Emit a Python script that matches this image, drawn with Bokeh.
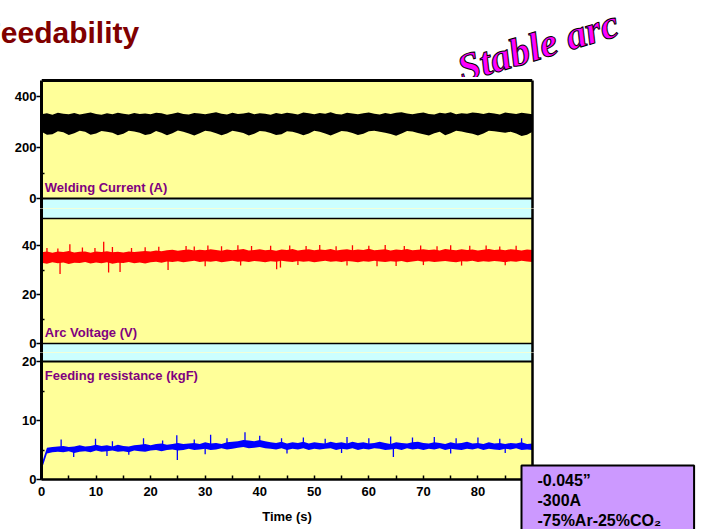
import numpy as np
from bokeh.plotting import figure
from bokeh.layouts import column
from bokeh.models import Range1d, LinearAxis, FixedTicker, Span, BoxAnnotation, Label, Title
from bokeh.embed import file_html
from bokeh.resources import INLINE

# ---------------- data ----------------
time_s = list(range(0, 91))

current_hi = [330, 334, 328, 336, 332, 330, 335, 329, 333, 337,
              331, 328, 334, 330, 336, 332, 329, 335, 331, 333,
              330, 336, 334, 328, 332, 337, 331, 329, 335, 333,
              330, 334, 338, 332, 329, 336, 331, 333, 337, 330,
              334, 332, 328, 335, 331, 336, 333, 329, 337, 334,
              330, 335, 332, 338, 331, 329, 336, 333, 330, 334,
              337, 332, 329, 335, 331, 336, 338, 333, 330, 334,
              337, 331, 329, 336, 333, 338, 330, 334, 332, 337,
              335, 331, 336, 333, 329, 337, 334, 331, 336, 333,
              330]
current_lo = [262, 250, 252, 264, 260, 249, 256, 266, 262, 250,
              255, 265, 262, 258, 248, 254, 266, 263, 258, 249,
              253, 265, 258, 248, 256, 267, 262, 255, 247, 256,
              266, 263, 256, 248, 255, 266, 262, 257, 247, 254,
              265, 263, 257, 249, 252, 264, 262, 256, 248, 255,
              266, 262, 255, 247, 256, 265, 263, 257, 249, 254,
              264, 266, 262, 258, 253, 246, 255, 265, 263, 257,
              252, 247, 256, 262, 248, 256, 266, 263, 258, 254,
              247, 255, 266, 264, 261, 258, 262, 255, 245, 250,
              262]

voltage_hi = [37.2, 37.5, 37.0, 37.6, 37.3, 37.8, 37.1, 37.4, 37.6, 37.0,
              37.5, 37.3, 37.7, 37.2, 37.4, 37.1, 37.6, 37.3, 37.5, 37.8,
              37.6, 38.0, 37.7, 38.1, 38.3, 37.9, 38.2, 38.4, 38.0, 38.3,
              38.1, 38.5, 38.2, 37.9, 38.4, 38.1, 38.3, 38.6, 38.0, 38.2,
              38.5, 38.1, 38.3, 37.9, 38.4, 38.2, 38.6, 38.0, 38.3, 38.5,
              38.1, 38.4, 38.2, 38.6, 38.0, 38.3, 38.5, 38.1, 38.4, 38.2,
              38.7, 38.1, 38.3, 38.5, 38.0, 38.4, 38.2, 38.6, 38.1, 38.3,
              38.5, 38.2, 38.4, 38.0, 38.6, 38.3, 38.1, 38.5, 38.2, 38.4,
              38.0, 38.3, 38.6, 38.2, 38.4, 38.1, 38.5, 38.3, 38.0, 38.4,
              38.2]
voltage_lo = [33.0, 32.6, 33.2, 32.8, 33.1, 32.5, 33.0, 32.9, 33.3, 32.7,
              33.1, 32.8, 33.2, 32.6, 33.0, 32.9, 33.3, 32.8, 33.1, 32.7,
              33.2, 33.4, 33.0, 33.5, 33.3, 33.6, 33.2, 33.5, 33.8, 33.3,
              33.6, 33.4, 33.7, 33.2, 33.5, 33.8, 33.4, 33.6, 33.3, 33.7,
              33.5, 33.2, 33.6, 33.4, 33.8, 33.5, 33.3, 33.7, 33.4, 33.6,
              33.2, 33.5, 33.8, 33.4, 33.6, 33.3, 33.7, 33.5, 33.2, 33.6,
              33.4, 33.8, 33.5, 33.3, 33.6, 33.4, 33.7, 33.2, 33.5, 33.8,
              33.4, 33.6, 33.3, 33.5, 33.7, 33.4, 33.2, 33.6, 33.5, 33.8,
              33.3, 33.6, 33.4, 33.7, 33.5, 33.2, 33.6, 33.4, 33.8, 33.5,
              33.3]
voltage_spike_t = [0.1, 1.0, 3.0, 3.4, 5.2, 7.5, 9.8, 11.4, 12.3, 13.0, 14.4,
                   16.5, 19.0, 21.5, 23.2, 26.5, 28.0, 30.0, 30.5, 33.0, 36.0,
                   36.5, 38.5, 42.0, 43.1, 43.8, 45.5, 47.0, 48.5, 51.0, 54.0,
                   56.0, 57.0, 60.0, 61.5, 63.0, 65.0, 66.5, 69.5, 70.0, 72.5,
                   75.0, 77.0, 78.5, 81.5, 84.0, 85.0, 87.0]
voltage_spike_v = [0.0, 39.0, 38.8, 28.4, 40.5, 39.2, 39.0, 41.5, 29.0, 39.4, 29.2,
                   39.0, 39.3, 39.5, 30.0, 39.8, 39.6, 31.5, 40.0, 39.7, 40.1,
                   31.8, 39.8, 39.9, 30.3, 31.0, 40.0, 32.0, 39.8, 40.2, 39.7,
                   31.8, 40.1, 39.9, 31.5, 40.2, 31.6, 39.8, 40.0, 32.0, 39.7,
                   40.1, 31.8, 39.9, 40.0, 39.6, 31.9, 39.9]

feed_hi = [2.6, 5.4, 5.5, 5.6, 5.7, 5.5, 5.6, 5.8, 5.6, 5.7,
           5.9, 5.7, 5.8, 5.6, 5.9, 5.7, 5.6, 5.8, 5.9, 6.0,
           5.8, 6.0, 6.1, 5.9, 6.0, 6.2, 6.0, 6.1, 6.2, 6.0,
           6.3, 6.1, 6.2, 6.0, 6.3, 6.4, 6.5, 6.7, 6.6, 6.5,
           6.7, 6.5, 6.3, 6.2, 6.4, 6.1, 6.3, 6.2, 6.4, 6.1,
           6.3, 6.2, 6.1, 6.4, 6.2, 6.3, 6.1, 6.4, 6.2, 6.3,
           6.1, 6.2, 6.4, 6.2, 6.0, 6.3, 6.2, 6.1, 6.3, 6.4,
           6.2, 6.1, 6.3, 6.2, 6.0, 6.3, 6.1, 6.2, 6.4, 6.1,
           6.2, 6.0, 6.3, 6.1, 6.2, 6.0, 6.2, 6.1, 6.3, 6.0,
           6.1]
feed_lo = [1.6, 4.4, 4.6, 4.7, 4.6, 4.8, 4.5, 4.7, 4.8, 4.6,
           4.9, 4.7, 4.8, 4.9, 4.7, 4.8, 4.6, 4.9, 4.8, 4.7,
           4.9, 5.0, 4.8, 5.0, 5.1, 4.9, 5.0, 5.2, 5.0, 5.1,
           5.2, 5.0, 5.1, 5.3, 5.1, 5.2, 5.4, 5.5, 5.3, 5.4,
           5.5, 5.3, 5.2, 5.1, 5.3, 5.0, 5.2, 5.1, 5.3, 5.0,
           5.2, 5.1, 5.2, 5.3, 5.0, 5.2, 5.1, 5.3, 5.0, 5.2,
           5.1, 5.3, 5.2, 5.0, 5.1, 5.2, 5.0, 5.3, 5.1, 5.2,
           5.0, 5.2, 5.1, 5.3, 5.0, 5.2, 5.1, 5.0, 5.2, 5.1,
           5.3, 5.0, 5.2, 5.1, 5.0, 5.2, 5.1, 5.3, 5.0, 5.1,
           5.0]
feed_spike_t = [3.6, 5.9, 9.9, 12.0, 13.0, 16.0, 18.7, 22.2, 24.8, 24.9, 28.0,
                30.0, 31.0, 34.0, 37.3, 40.0, 44.0, 45.0, 48.0, 52.0, 55.0,
                56.0, 60.0, 64.0, 64.5, 68.0, 72.0, 75.0, 76.0, 80.0, 84.0,
                85.0, 88.0]
feed_spike_v = [6.8, 3.8, 6.9, 4.0, 6.5, 4.2, 7.0, 6.6, 7.5, 3.3, 6.8,
                4.3, 7.6, 7.0, 8.0, 7.4, 7.0, 4.4, 7.1, 6.9, 4.5,
                7.2, 7.0, 7.3, 3.8, 7.1, 7.2, 4.4, 7.0, 7.1, 6.9,
                4.5, 7.0]

x_ticks = [0, 10, 20, 30, 40, 50, 60, 70, 80]
x_minor = [5, 15, 25, 35, 45, 55, 65, 75, 85]
cur_ticks, cur_minor = [0, 200, 400], [100, 300]
volt_ticks, volt_minor = [0, 20, 40], [10, 30]
feed_ticks, feed_minor = [0, 10, 20], [5, 15]
panel_names = ["Welding Current (A)", "Arc Voltage (V)", "Feeding resistance (kgF)"]
cur_top, volt_top, feed_top = 462.7, 51, 20
t_max = 90
box_lines = ["-0.045\u201d", "-300A", "-75%Ar-25%CO\u2082"]

# ---------------- styling ----------------
FONT = "Liberation Sans"
YELLOW = "#FFFF99"
CYAN = "#CCFFFF"
PURPLE_TXT = "#800080"
W = 707
RB = W - 532   # right border so that every frame ends at x = 532


def style_left_axis(ax, ticks, minor):
    ax.ticker = FixedTicker(ticks=ticks, minor_ticks=minor)
    ax.axis_line_width = 3
    ax.axis_line_color = "black"
    ax.major_tick_out = 5
    ax.major_tick_in = 0
    ax.minor_tick_in = 3
    ax.minor_tick_out = 0
    ax.major_tick_line_width = 1.5
    ax.minor_tick_line_width = 1.5
    ax.major_label_standoff = 0
    ax.major_label_text_font = FONT
    ax.major_label_text_font_style = "bold"
    ax.major_label_text_font_size = "13px"
    ax.major_label_text_color = "black"


def make_fig(h, mb_bottom, yr, ticks, minor, xaxis=False, bg=YELLOW):
    p = figure(width=W, height=h, x_range=Range1d(0, t_max), y_range=Range1d(*yr),
               output_backend="svg", toolbar_location=None,
               x_axis_location="below" if xaxis else None, y_axis_location="left",
               min_border_left=41, min_border_right=RB,
               min_border_top=0, min_border_bottom=mb_bottom,
               background_fill_color=bg, border_fill_color="white",
               outline_line_color=None)
    p.grid.visible = False
    style_left_axis(p.yaxis[0], ticks, minor)
    return p


def right_border(p, bounds=None):
    ax = LinearAxis(ticker=FixedTicker(ticks=[]), axis_line_width=2.5,
                    axis_line_color="black", major_tick_out=0, minor_tick_out=0)
    if bounds is not None:
        ax.bounds = bounds
    p.add_layout(ax, "right")


def add_spikes(p, t, v, hi, lo, color):
    mid = (np.array(hi) + np.array(lo)) / 2.0
    base = np.interp(t, time_s, mid)
    p.segment(x0=t, y0=base, x1=t, y1=v, line_color=color, line_width=1.3)


def panel_label(p, y, text):
    p.add_layout(Label(x=0.6, y=y, text=text, text_font=FONT, text_font_style="bold",
                       text_font_size="13px", text_color=PURPLE_TXT,
                       text_baseline="middle", text_align="left"))


# ---------------- header: title + "Stable arc" ----------------
hdr = figure(width=W, height=77, x_range=Range1d(0, 1), y_range=Range1d(0, 1),
             output_backend="svg", toolbar_location=None,
             x_axis_location=None, y_axis_location=None,
             min_border_left=41, min_border_right=RB, min_border_top=48, min_border_bottom=0,
             background_fill_color="white", border_fill_color="white",
             outline_line_color=None)
hdr.grid.visible = False
hdr.add_layout(Title(text="Feedability", align="left", offset=-59, standoff=0,
                     text_font=FONT, text_font_style="bold", text_font_size="30px",
                     text_color="#800000", vertical_align="bottom"), "above")
hdr.add_layout(Label(x=-74, y=8, x_units="screen", y_units="screen", text="Stable arc",
                     angle=0.29, text_font="Liberation Sans Narrow",
                     text_font_style="bold italic", text_font_size="40px",
                     text_color="#FF00FF", text_outline_color="black",
                     text_baseline="alphabetic"), "right")

# ---------------- panel 1: welding current ----------------
p1_lo = -39.2
p1 = make_fig(131, 0, (p1_lo, 474.5), cur_ticks, cur_minor, bg="white")
p1.yaxis[0].bounds = (p1_lo, cur_top)
right_border(p1, (p1_lo, cur_top))
p1.add_layout(BoxAnnotation(bottom=0, top=cur_top, fill_color=YELLOW, fill_alpha=1,
                            line_color=None, level="underlay"))
p1.add_layout(BoxAnnotation(top=0, fill_color=CYAN, fill_alpha=1, line_color=None, level="underlay"))
p1.add_layout(Span(location=cur_top, dimension="width", line_color="black", line_width=3))
p1.add_layout(Span(location=0, dimension="width", line_color="black", line_width=2))
p1.varea(x=time_s, y1=current_lo, y2=current_hi, fill_color="black")
panel_label(p1, 43, panel_names[0])

# ---------------- panel 2: arc voltage ----------------
p2 = make_fig(144, 0, (-3.67, 55.1), volt_ticks, volt_minor)
right_border(p2)
p2.add_layout(BoxAnnotation(top=0, fill_color=CYAN, fill_alpha=1, line_color=None, level="underlay"))
p2.add_layout(BoxAnnotation(bottom=volt_top, fill_color=CYAN, fill_alpha=1, line_color=None, level="underlay"))
p2.add_layout(Span(location=0, dimension="width", line_color="black", line_width=1.5))
p2.add_layout(Span(location=volt_top, dimension="width", line_color="black", line_width=1.5))
p2.varea(x=time_s, y1=voltage_lo, y2=voltage_hi, fill_color="red")
add_spikes(p2, voltage_spike_t, voltage_spike_v, voltage_hi, voltage_lo, "red")
panel_label(p2, 4.6, panel_names[1])

# ---------------- panel 3: feeding resistance ----------------
p3 = make_fig(177, 50, (0, 21.53), feed_ticks, feed_minor, xaxis=True)
right_border(p3)
p3.add_layout(BoxAnnotation(bottom=feed_top, fill_color=CYAN, fill_alpha=1,
                            line_color=None, level="underlay"))
p3.add_layout(Span(location=feed_top, dimension="width", line_color="black", line_width=2))
p3.varea(x=time_s, y1=feed_lo, y2=feed_hi, fill_color="blue")
add_spikes(p3, feed_spike_t, feed_spike_v, feed_hi, feed_lo, "blue")
panel_label(p3, 17.7, panel_names[2])
xa = p3.xaxis[0]
xa.ticker = FixedTicker(ticks=x_ticks, minor_ticks=x_minor)
xa.axis_line_width = 2.5
xa.major_tick_in = 4
xa.major_tick_out = 0
xa.minor_tick_in = 4
xa.minor_tick_out = 0
xa.major_tick_line_width = 1.5
xa.minor_tick_line_width = 1.5
xa.major_label_standoff = 7
xa.major_label_text_font = FONT
xa.major_label_text_font_style = "bold"
xa.major_label_text_font_size = "13px"
xa.major_label_text_color = "black"
xa.axis_label = "Time (s)"
xa.axis_label_text_font = FONT
xa.axis_label_text_font_style = "bold"
xa.axis_label_text_font_size = "13px"
xa.axis_label_standoff = 10
xa.axis_label_text_color = "black"

# info box, placed in the right-hand side panel of the last plot
p3.add_layout(Label(x=-11, y=14, x_units="screen", y_units="screen",
                    text="\n".join(box_lines), text_font=FONT,
                    text_font_style="bold", text_font_size="16px", text_color="black",
                    text_line_height=1.2,
                    text_baseline="top", text_align="left",
                    background_fill_color="#CC99FF", border_line_color="black",
                    border_line_width=2,
                    padding=dict(left=16, right=33, top=6, bottom=10)), "right")

layout = column(hdr, p1, p2, p3, spacing=0)
open("out.html", "w").write(file_html(layout, INLINE))
